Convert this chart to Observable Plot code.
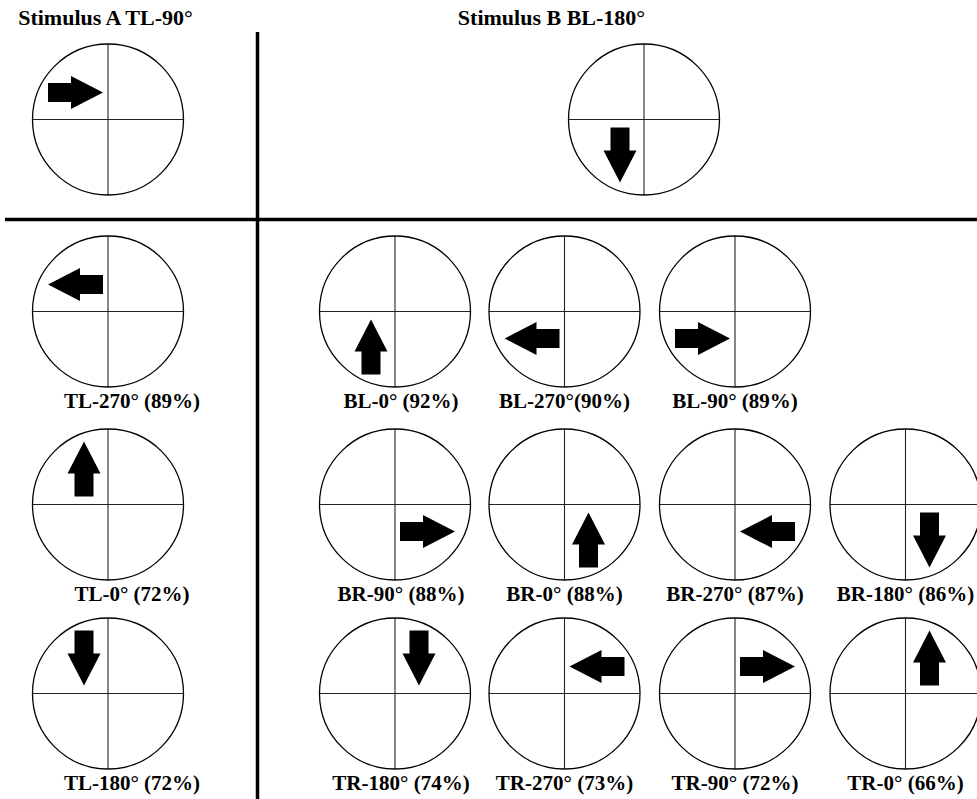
<!DOCTYPE html>
<html>
<head>
<meta charset="utf-8">
<script src="https://cdn.jsdelivr.net/npm/d3@7"></script>
<script src="https://cdn.jsdelivr.net/npm/@observablehq/plot@0.6"></script>
<style>
  html, body { margin: 0; padding: 0; background: #fff; }
  #chart { width: 977px; height: 799px; overflow: hidden; }
</style>
</head>
<body>
<div id="chart"></div>
<script>
// ---------------- DATA ----------------
const stimulusTitles = ["Stimulus A TL-90°", "Stimulus B BL-180°"];
const stimulusQuadrants = ["TL", "BL"];
const stimulusAngles = [90, 180];

const responseLabels = [
  "TL-270° (89%)", "TL-0° (72%)", "TL-180° (72%)",
  "BL-0° (92%)", "BL-270°(90%)", "BL-90° (89%)",
  "BR-90° (88%)", "BR-0° (88%)", "BR-270° (87%)", "BR-180° (86%)",
  "TR-180° (74%)", "TR-270° (73%)", "TR-90° (72%)", "TR-0° (66%)"
];
const responseQuadrants = ["TL","TL","TL","BL","BL","BL","BR","BR","BR","BR","TR","TR","TR","TR"];
const responseAngles    = [270, 0, 180, 0, 270, 90, 90, 0, 270, 180, 180, 270, 90, 0];
const responsePercents  = [89, 72, 72, 92, 90, 89, 88, 88, 87, 86, 74, 73, 72, 66];
// grid slot (column, row) of each response panel
const responseCols = [0, 0, 0, 1, 2, 3, 1, 2, 3, 4, 1, 2, 3, 4];
const responseRows = [1, 2, 3, 1, 1, 1, 2, 2, 2, 2, 3, 3, 3, 3];

// ---------------- LAYOUT ----------------
const W = 977, H = 799;
const R = 75.5;
const colX = [107.5, 394.5, 564, 734.5, 905];
const labelDX = [24, 6, 0, 0, 0];
const rowY = [119, 311, 504, 693];
const stimX = [107.5, 643.5];
const titleX = [105, 551];
const titleBaseline = 24;
const labelGap = 97;
const serif = "'Liberation Serif', 'Times New Roman', Times, serif";

const panels = [];
stimulusTitles.forEach((t, i) => panels.push({
  x: stimX[i], y: rowY[0], quad: stimulusQuadrants[i], angle: stimulusAngles[i]
}));
responseLabels.forEach((t, i) => panels.push({
  x: colX[responseCols[i]], y: rowY[responseRows[i]],
  quad: responseQuadrants[i], angle: responseAngles[i],
  label: t, pct: responsePercents[i],
  lx: colX[responseCols[i]] + labelDX[responseCols[i]]
}));

// arrow geometry (block arrow)
const shaftLen = 23, shaftHalf = 9.5, headLen = 32, headHalf = 16.5;
const arrowLen = shaftLen + headLen;
const shape = [[0,-shaftHalf],[shaftLen,-shaftHalf],[shaftLen,-headHalf],[arrowLen,0],
               [shaftLen,headHalf],[shaftLen,shaftHalf],[0,shaftHalf]];

const arrowPts = [];
panels.forEach((p, k) => {
  const sx = p.quad[1] === "L" ? -1 : 1;
  const sy = p.quad[0] === "T" ? -1 : 1;
  const rad = p.angle * Math.PI / 180;
  const dx = Math.round(Math.sin(rad)), dy = Math.round(-Math.cos(rad));
  let cx, cy;
  if (dx === 0) { cx = sx * 24; cy = sy * 35.5; }
  else { cx = sx * 32.5; cy = sy * 27; }
  const tx = p.x + cx - dx * arrowLen / 2;
  const ty = p.y + cy - dy * arrowLen / 2;
  const nx = -dy, ny = dx;
  shape.forEach(([a, c]) => arrowPts.push({
    id: k, x: tx + a * dx + c * nx, y: ty + a * dy + c * ny
  }));
});

const titles = stimulusTitles.map((t, i) => ({ text: t, x: titleX[i], y: titleBaseline }));
const labels = panels.filter(p => p.label);

const chart = Plot.plot({
  width: W, height: H,
  margin: 0,
  x: { domain: [0, W], range: [0, W], axis: null },
  y: { domain: [0, H], range: [0, H], axis: null },
  style: { background: "#fff" },
  marks: [
    Plot.ruleX([257], { y1: 32, y2: H, stroke: "#000", strokeWidth: 3.5 }),
    Plot.ruleY([219], { x1: 5, x2: W, stroke: "#000", strokeWidth: 3.5 }),
    Plot.link(panels, { x1: d => d.x - R, x2: d => d.x + R, y1: "y", y2: "y", stroke: "#222", strokeWidth: 1.1 }),
    Plot.link(panels, { x1: "x", x2: "x", y1: d => d.y - R, y2: d => d.y + R, stroke: "#222", strokeWidth: 1.1 }),
    Plot.dot(panels, { x: "x", y: "y", r: R, stroke: "#000", fill: "none", strokeWidth: 1.3 }),
    Plot.line(arrowPts, { x: "x", y: "y", z: "id", fill: "#000", stroke: "none" }),
    Plot.text(titles, { x: "x", y: d => d.y - 7, text: "text", fontFamily: serif, fontWeight: "bold", fontSize: 22, fill: "#000", textAnchor: "middle" }),
    Plot.text(labels, { x: "lx", y: d => d.y + labelGap - 7, text: "label", fontFamily: serif, fontWeight: "bold", fontSize: 21, fill: "#000", textAnchor: "middle" })
  ]
});
document.getElementById("chart").appendChild(chart);
</script>
</body>
</html>
